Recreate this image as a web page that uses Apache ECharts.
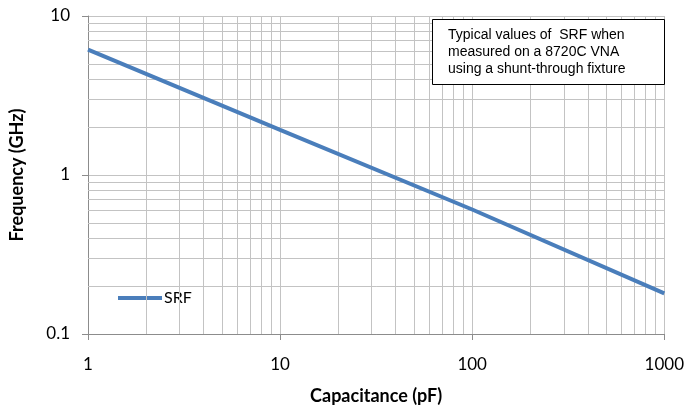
<!DOCTYPE html>
<html>
<head>
<meta charset="utf-8">
<script src="https://cdn.jsdelivr.net/npm/echarts@6/dist/echarts.min.js"></script>
<style>
html,body{margin:0;padding:0;background:#fff;}
#chart{width:687px;height:410px;}
</style>
</head>
<body>
<div id="chart"></div>
<script>
// Data
var capacitance = [1, 10, 100, 1000];          // pF
var srfGHz      = [6.15, 1.92, 0.607, 0.18];   // GHz
var seriesName  = 'SRF';

// Axis ranges and gridline tick values (log scale)
var xMin = 1, xMax = 1000;
var yMin = 0.1, yMax = 10;
var xMinorGrid = [2,3,4,5,6,7,8,9,20,30,40,50,60,70,80,90,200,300,400,500,600,700,800,900];
var yMinorGrid = [0.2,0.3,0.4,0.5,0.6,0.7,0.8,0.9,2,3,4,5,6,7,8,9];

var noteLines = ['Typical values of  SRF when', 'measured on a 8720C VNA', 'using a shunt-through fixture'];

var points = capacitance.map(function (c, i) { return [c, srfGHz[i]]; });
var gridStyle = { color: '#c3c3c3', width: 1, type: 'solid' };
var markData = xMinorGrid.map(function (v) { return { xAxis: v }; })
  .concat(yMinorGrid.map(function (v) { return { yAxis: v }; }));
function fmt(v) { return String(+(+v).toPrecision(3)); }

var chart = echarts.init(document.getElementById('chart'), null, { renderer: 'canvas' });
chart.setOption({
  animation: false,
  backgroundColor: '#ffffff',
  grid: { left: 88, right: 22, top: 16, bottom: 72, containLabel: false },
  legend: {
    left: 113, top: 285,
    itemWidth: 44, itemHeight: 14,
    icon: 'path://M0,0 L44,0 L44,4 L0,4 Z',
    data: [seriesName],
    textStyle: { fontFamily: 'Lato', fontSize: 16, color: '#000', padding: [0, 0, 0, -3] }
  },
  xAxis: {
    type: 'log', logBase: 10, min: xMin, max: xMax,
    name: 'Capacitance (pF)', nameLocation: 'middle', nameGap: 53,
    nameTextStyle: { fontFamily: 'Lato', fontWeight: 'bold', fontSize: 18, color: '#000' },
    axisLine: { show: true, lineStyle: { color: '#8c8c8c', width: 1 } },
    axisTick: { show: true, inside: false, length: 6, lineStyle: { color: '#8c8c8c' } },
    axisLabel: { fontFamily: 'Lato', fontSize: 17, color: '#000', margin: 22, formatter: fmt },
    splitLine: { show: true, lineStyle: gridStyle },
    minorTick: { show: false }, minorSplitLine: { show: false }
  },
  yAxis: {
    type: 'log', logBase: 10, min: yMin, max: yMax,
    name: 'Frequency (GHz)', nameLocation: 'middle', nameGap: 62, nameRotate: 90,
    nameTextStyle: { fontFamily: 'Lato', fontWeight: 'bold', fontSize: 18, color: '#000' },
    axisLine: { show: true, lineStyle: { color: '#8c8c8c', width: 1 } },
    axisTick: { show: true, inside: false, length: 6, lineStyle: { color: '#8c8c8c' } },
    axisLabel: { fontFamily: 'Lato', fontSize: 17, color: '#000', margin: 18, formatter: fmt },
    splitLine: { show: true, lineStyle: gridStyle },
    minorTick: { show: false }, minorSplitLine: { show: false }
  },
  series: [
    {
      name: 'grid', type: 'line', data: [], silent: true,
      markLine: { silent: true, symbol: ['none', 'none'], label: { show: false },
        lineStyle: gridStyle, animation: false, emphasis: { disabled: true }, data: markData },
      z: 1
    },
    {
      name: seriesName, type: 'line', data: points, showSymbol: false, symbol: 'none',
      lineStyle: { color: '#4a7ebb', width: 4 }, itemStyle: { color: '#4a7ebb' },
      z: 5
    }
  ],
  graphic: [
    { type: 'rect', left: 432, top: 19, z: 100,
      shape: { width: 232, height: 65 },
      style: { fill: '#ffffff', stroke: '#000000', lineWidth: 1 } },
    { type: 'text', left: 448, top: 27, z: 101,
      style: { text: noteLines.join('\n'), font: '14px "Liberation Sans", Arial, sans-serif',
        lineHeight: 17, fill: '#000' } }
  ]
});
</script>
</body>
</html>
